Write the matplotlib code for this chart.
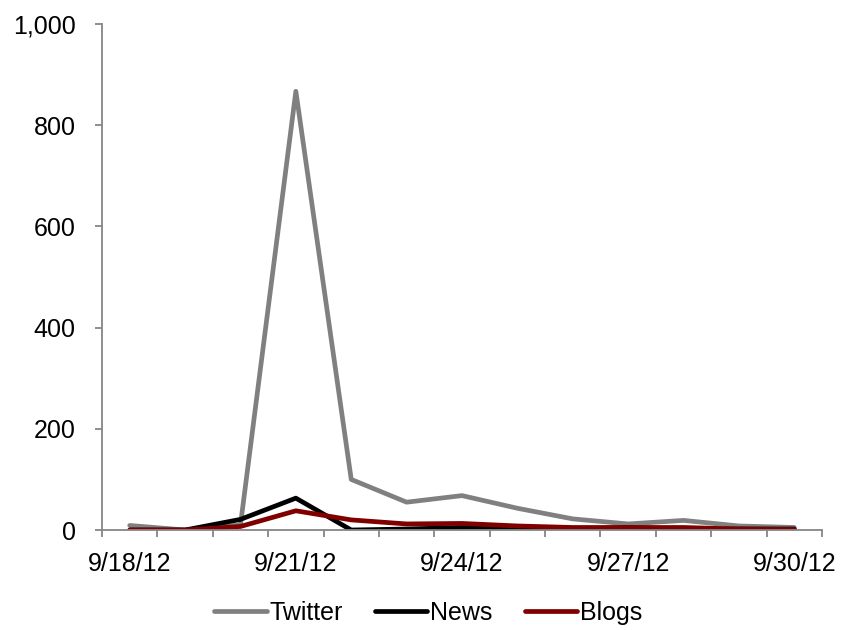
import matplotlib
matplotlib.use("Agg")
import matplotlib.pyplot as plt
from matplotlib.ticker import FuncFormatter

plt.rcParams['font.family'] = ['Liberation Sans', 'DejaVu Sans']

dates = ['9/18/12', '9/19/12', '9/20/12', '9/21/12', '9/22/12', '9/23/12', '9/24/12',
         '9/25/12', '9/26/12', '9/27/12', '9/28/12', '9/29/12', '9/30/12']
twitter = [9, 0, 10, 867, 100, 55, 68, 43, 22, 12, 19, 8, 5]
news = [0, 0, 21, 63, 0, 2, 5, 5, 2, 5, 2, 2, 2]
blogs = [0, 0, 7, 38, 20, 12, 13, 8, 5, 5, 5, 2, 1]

fig = plt.figure(figsize=(8.41, 6.3), dpi=100)
ax = fig.add_axes([0.1213, 0.1587, 0.8561, 0.8032])

x = list(range(len(dates)))
kw = dict(linewidth=3.4, solid_capstyle='round', solid_joinstyle='round')
ax.plot(x, twitter, color='#808080', label='Twitter', **kw)
ax.plot(x, news, color='black', label='News', **kw)
ax.plot(x, blogs, color='#800000', label='Blogs', **kw)

ax.set_xlim(-0.5, len(dates) - 0.5)
ax.set_ylim(0, 1000)
ax.set_yticks(range(0, 1001, 200))
ax.yaxis.set_major_formatter(FuncFormatter(lambda v, p: f'{int(v):,}'))

# category boundaries get tick marks, every third date gets a label
ax.set_xticks([i - 0.5 for i in range(len(dates) + 1)])
ax.set_xticklabels([])
ax.set_xticks(x[::3], minor=True)
ax.set_xticklabels(dates[::3], minor=True)
ax.tick_params(axis='x', which='minor', length=0, pad=16, labelsize=18)
ax.tick_params(axis='x', which='major', length=5, width=1.3, color='#868686')
ax.tick_params(axis='y', length=5, width=1.3, color='#868686', pad=14, labelsize=18)

for s in ['top', 'right']:
    ax.spines[s].set_visible(False)
for s in ['left', 'bottom']:
    ax.spines[s].set_color('#868686')
    ax.spines[s].set_linewidth(1.3)

fig.legend(*ax.get_legend_handles_labels(), loc='center', bbox_to_anchor=(0.509, 0.027),
           ncol=3, frameon=False, fontsize=18, handlelength=2.1, handletextpad=0.1,
           columnspacing=1.3, borderaxespad=0, borderpad=0)

fig.savefig('out.png', dpi=100)
